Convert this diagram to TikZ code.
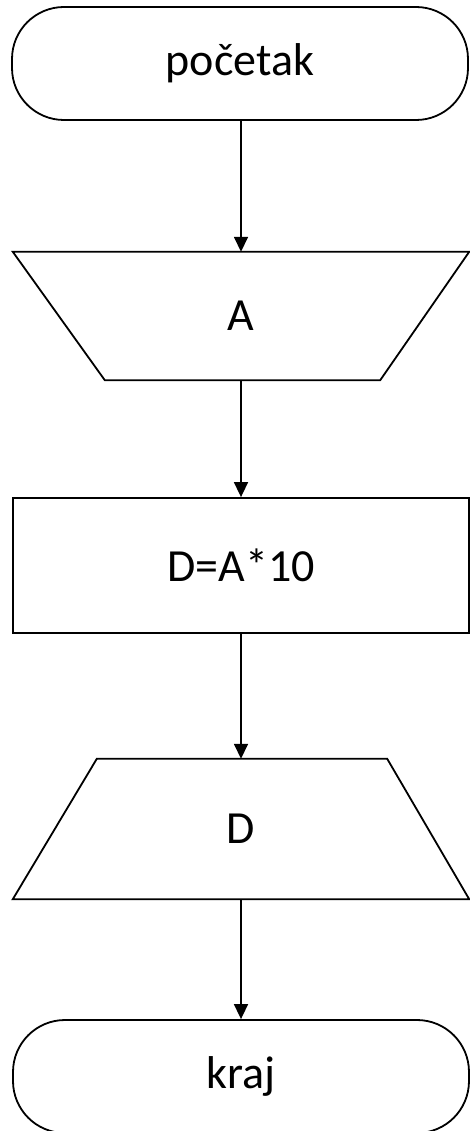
\documentclass[tikz,border=0pt]{standalone}
\usepackage{fontspec}
\setmainfont{Carlito}
\usetikzlibrary{positioning,calc,arrows.meta}
\tikzset{
  term/.style={draw,line width=1.8pt,rectangle,rounded corners=52pt,
    minimum width=456pt,minimum height=113pt},
  proc/.style={draw,line width=1.8pt,rectangle,
    minimum width=456pt,minimum height=135pt},
  iobox/.style={rectangle,inner sep=0pt,minimum width=456pt},
  edge/.style={line width=1.8pt,line join=miter},
  flow/.style={line width=1.6pt,-{Triangle[length=15pt,width=14pt]}}
}
\begin{document}
\begin{tikzpicture}[x=1pt,y=1pt,font=\fontsize{46}{55}\selectfont]
\useasboundingbox (0,0) rectangle (469,-1131);
% flowchart blocks
\node[term]  (start) at (240,-63.5)  {početak};
\node[iobox,minimum height=128pt] (inA)  at (241,-316)   {A};
\node[proc]  (calc)  at (241,-565.5) {D=A*10};
\node[iobox,minimum height=140pt] (outD) at (241,-829)   {D};
\node[term]  (stop)  at (241,-1076.5) {kraj};
% input: wide on top
\draw[edge] (inA.north west) -- (inA.north east)
  -- ($(inA.south east)+(-89,0)$) -- ($(inA.south west)+(92,0)$) -- cycle;
% output: wide at the bottom
\draw[edge] ($(outD.north west)+(84,0)$) -- ($(outD.north east)+(-82,0)$)
  -- (outD.south east) -- (outD.south west) -- cycle;
% arrows
\draw[flow] (start.south -| inA.north) -- (inA.north);
\draw[flow] (inA.south) -- (calc.north);
\draw[flow] (calc.south) -- (outD.north);
\draw[flow] (outD.south) -- (stop.north);
\end{tikzpicture}
\end{document}
